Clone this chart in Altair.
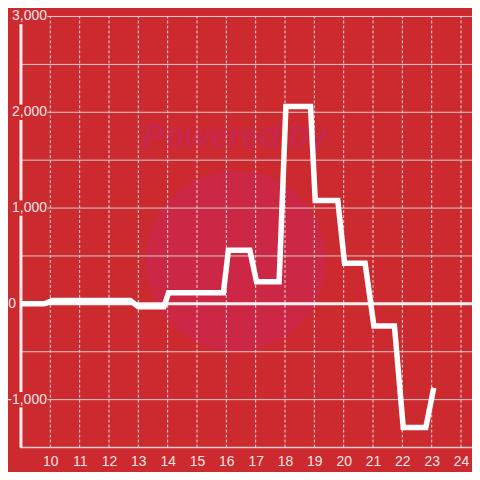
import altair as alt
import pandas as pd

# ---- data ----
hours = [9, 9.8, 10.07, 12.73, 13.0, 13.87, 14.03, 15.9, 16.07, 16.8, 17.03, 17.8,
         18.03, 18.87, 19.03, 19.8, 20.03, 20.73, 21.03, 21.73, 22.03, 22.8, 23.07]
values = [0, 0, 34, 34, -31, -31, 115, 115, 560, 560, 230, 230,
          2060, 2060, 1080, 1080, 425, 425, -230, -230, -1290, -1290, -875]

x_ticks = list(range(10, 25))
y_labels = [-1000, 1000, 2000, 3000]
y_label_text = ["-1,000", "1,000", "2,000", "3,000"]
y_zero_label = ["0"]
y_grid = [-1000, -500, 500, 1000, 1500, 2000, 2500, 3000]

X_START, X_AXIS, X_END = 8.558, 9, 24.374
Y_BOTTOM, Y_TOP, Y_VIEW_TOP = -1500, 3000, 3083.3
BG = "#cc2a2f"
LABEL = "#f4e4e4"

xs = alt.Scale(domain=[X_START, X_END], nice=False, zero=False)
ys = alt.Scale(domain=[Y_BOTTOM, Y_VIEW_TOP], nice=False, zero=False)

line_df = pd.DataFrame({"hour": hours, "value": values})

# horizontal grid: labelled lines start after the label box
hgrid_df = pd.DataFrame({
    "y": y_grid,
    "x0": [9.9 if v % 1000 == 0 else X_AXIS for v in y_grid],
    "x1": [X_END] * len(y_grid),
})
vgrid_df = pd.DataFrame({"x": x_ticks, "y0": [Y_BOTTOM] * len(x_ticks),
                         "y1": [Y_TOP] * len(x_ticks)})
# y-axis line, interrupted by the label boxes
seg_lo = [-1500, -920, 1080, 2080]
seg_hi = [-1080, 920, 1920, 2920]
yaxis_df = pd.DataFrame({"x": [X_AXIS] * len(seg_lo), "y0": seg_lo, "y1": seg_hi})
zero_df = pd.DataFrame({"y": [0], "x0": [X_AXIS], "x1": [X_END]})
xline_df = pd.DataFrame({"y": [Y_BOTTOM], "x0": [X_AXIS - 0.03], "x1": [X_END]})
ylab_df = pd.DataFrame({"x": [X_AXIS] * len(y_labels), "y": y_labels, "t": y_label_text})
ylab0_df = pd.DataFrame({"x": [X_AXIS], "y": [0], "t": y_zero_label})
wm_df = pd.DataFrame({"x": [16.33], "y": [450]})
wm_text_df = pd.DataFrame({"x": [16.3], "y": [1740], "t": ["Powered by"]})

x_axis = alt.Axis(values=x_ticks, grid=False, ticks=False, domain=False,
                  labelColor=LABEL, labelFontSize=14, labelFont="Liberation Sans",
                  labelPadding=7, labelFlush=False, title=None)
y_axis = alt.Axis(values=y_labels, grid=False, ticks=False, domain=False,
                  labels=False, title=None)


def X(field):
    return alt.X(field, type="quantitative", scale=xs, axis=x_axis)


def Y(field):
    return alt.Y(field, type="quantitative", scale=ys, axis=y_axis)


circle = alt.Chart(wm_df).mark_circle(size=32800, color="#cc2846", opacity=1).encode(
    x=X("x"), y=Y("y"))
wm_text = alt.Chart(wm_text_df).mark_text(
    fontSize=33, fontWeight="bold", fontStyle="italic", font="Liberation Sans",
    color="#c8284c").encode(x=X("x"), y=Y("y"), text="t:N")

hgrid = alt.Chart(hgrid_df).mark_rule(color="#cfcfcf", strokeWidth=1).encode(
    x=X("x0"), x2="x1:Q", y=Y("y"))
vgrid = alt.Chart(vgrid_df).mark_rule(color="#dedede", strokeWidth=1,
                                      strokeDash=[3, 2]).encode(
    x=X("x"), y=Y("y0"), y2="y1:Q")
xline = alt.Chart(xline_df).mark_rule(color="#d6d0d0", strokeWidth=1.5).encode(
    x=X("x0"), x2="x1:Q", y=Y("y"))
zero = alt.Chart(zero_df).mark_rule(color="#f7f3f3", strokeWidth=3).encode(
    x=X("x0"), x2="x1:Q", y=Y("y"))
yaxis = alt.Chart(yaxis_df).mark_rule(color="#f3eeee", strokeWidth=3).encode(
    x=X("x"), y=Y("y0"), y2="y1:Q")
ylabels = alt.Chart(ylab_df).mark_text(
    align="right", baseline="middle", dx=26, fontSize=14, font="Liberation Sans",
    color=LABEL).encode(x=X("x"), y=Y("y"), text="t:N")
ylabel0 = alt.Chart(ylab0_df).mark_text(
    align="right", baseline="middle", dx=-5, fontSize=14, font="Liberation Sans",
    color=LABEL).encode(x=X("x"), y=Y("y"), text="t:N")
line = alt.Chart(line_df).mark_line(color="white", strokeWidth=5.5,
                                    strokeJoin="miter", strokeCap="butt").encode(
    x=X("hour"), y=Y("value"))

chart = alt.layer(circle, wm_text, hgrid, vgrid, xline, zero, yaxis, ylabels,
                  line, ylabel0).properties(
    width=465, height=440,
    padding={"left": 0, "top": 0, "right": 0, "bottom": 24},
    autosize="none",
    background=BG,
).configure_view(stroke=None)

chart.save("out.html", embed_options={"renderer": "svg", "actions": False})
